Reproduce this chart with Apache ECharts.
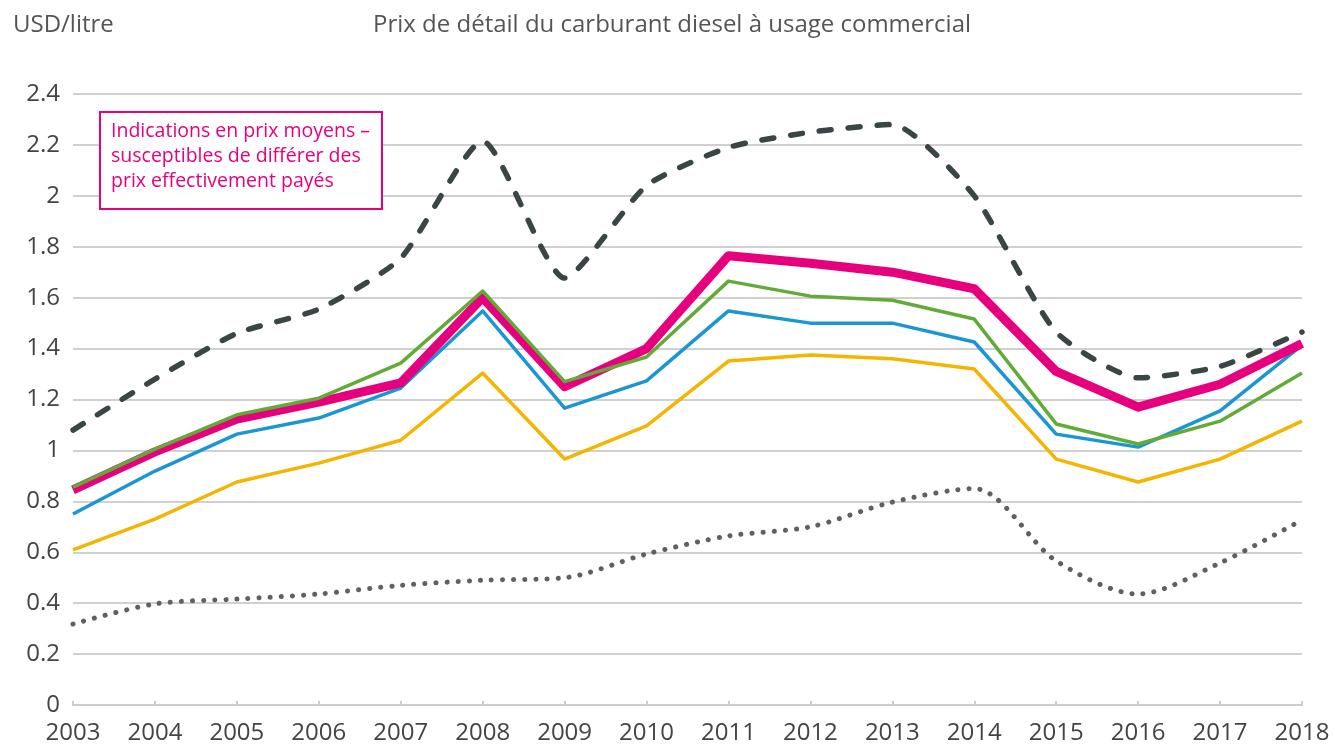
<!DOCTYPE html>
<html>
<head>
<meta charset="utf-8">
<script src="https://cdn.jsdelivr.net/npm/echarts@6/dist/echarts.min.js"></script>
<style>
html,body{margin:0;padding:0;background:#fff;}
#chart{width:1335px;height:748px;}
</style>
</head>
<body>
<div id="chart"></div>
<script>
const years = ['2003','2004','2005','2006','2007','2008','2009','2010','2011','2012','2013','2014','2015','2016','2017','2018'];
const yTicks = [0, 0.2, 0.4, 0.6, 0.8, 1, 1.2, 1.4, 1.6, 1.8, 2, 2.2, 2.4];
const dashedSeries = [1.08, 1.28, 1.46, 1.555, 1.755, 2.215, 1.677, 2.04, 2.19, 2.25, 2.28, 2.0, 1.465, 1.285, 1.33, 1.465];
const pinkSeries = [0.845, 0.994, 1.123, 1.19, 1.265, 1.60, 1.25, 1.40, 1.765, 1.735, 1.70, 1.635, 1.31, 1.17, 1.26, 1.42];
const greenSeries = [0.856, 1.005, 1.14, 1.205, 1.343, 1.626, 1.27, 1.367, 1.665, 1.606, 1.59, 1.516, 1.104, 1.025, 1.115, 1.304];
const blueSeries = [0.75, 0.919, 1.064, 1.127, 1.245, 1.548, 1.166, 1.273, 1.548, 1.50, 1.50, 1.426, 1.064, 1.013, 1.155, 1.414];
const yellowSeries = [0.609, 0.73, 0.876, 0.95, 1.04, 1.304, 0.966, 1.096, 1.351, 1.375, 1.36, 1.32, 0.966, 0.876, 0.966, 1.115];
const dottedSeries = [0.318, 0.397, 0.416, 0.436, 0.47, 0.49, 0.50, 0.593, 0.664, 0.70, 0.797, 0.85, 0.566, 0.436, 0.558, 0.727];
const noteLines = ['Indications en prix moyens –', 'susceptibles de différer des', 'prix effectivement payés'];

const FONT = '"Open Sans", "Noto Sans", sans-serif';
const chart = echarts.init(document.getElementById('chart'));

function solid(data, color, width, z) {
  return { type: 'line', data: data, symbol: 'none', z: z,
    lineStyle: { color: color, width: width, join: 'round' }, emphasis: { disabled: true } };
}

chart.setOption({
  animation: false,
  backgroundColor: '#ffffff',
  grid: { left: 73, right: 33, top: 94, bottom: 43, containLabel: false },
  title: [
    { text: 'USD/litre', left: 8, top: 8, textStyle: { fontFamily: FONT, fontSize: 24, fontWeight: 'normal', color: '#555555' } },
    { text: 'Prix de détail du carburant diesel à usage commercial', left: 368, top: 8, textStyle: { fontFamily: FONT, fontSize: 24, fontWeight: 'normal', color: '#555555' } }
  ],
  xAxis: {
    type: 'category', data: years, boundaryGap: false,
    axisLine: { lineStyle: { color: '#cccccc', width: 2 } },
    axisTick: { show: true, inside: true, length: 4, lineStyle: { color: '#cccccc', width: 2 } },
    axisLabel: { fontFamily: FONT, fontSize: 24, color: '#444444', margin: 16, interval: 0 },
    splitLine: { show: false }
  },
  yAxis: {
    type: 'value', min: 0, max: 2.4, interval: 0.2,
    axisLine: { show: false }, axisTick: { show: false },
    axisLabel: { fontFamily: FONT, fontSize: 24, color: '#444444', margin: 13,
      formatter: function (v) { const t = yTicks.find(x => Math.abs(x - v) < 1e-6); return String(t !== undefined ? t : Math.round(v * 10) / 10); } },
    splitLine: { lineStyle: { color: '#d0d0d0', width: 2 } }
  },
  series: [
    { type: 'line', data: dottedSeries, symbol: 'none', smooth: 0.3, z: 2,
      lineStyle: { color: '#606060', width: 5, type: [0.1, 11], cap: 'round' }, emphasis: { disabled: true } },
    solid(yellowSeries, '#f5b400', 3.5, 3),
    solid(blueSeries, '#1a96d4', 3.5, 4),
    solid(pinkSeries, '#e6007e', 9, 5),
    solid(greenSeries, '#62ab37', 3.5, 6),
    { type: 'line', data: dashedSeries, symbol: 'none', smooth: 0.2, z: 7,
      lineStyle: { color: '#3b4545', width: 5.5, type: [12, 17], cap: 'round' }, emphasis: { disabled: true } }
  ],
  graphic: [
    { type: 'rect', left: 99, top: 111, z: 100,
      shape: { width: 282, height: 97 },
      style: { fill: '#ffffff', stroke: '#e6007e', lineWidth: 2 } },
    { type: 'text', left: 111, top: 119, z: 101,
      style: { text: noteLines.join('\n'), fill: '#e6007e', font: '19.5px ' + FONT, lineHeight: 25 } }
  ]
});
</script>
</body>
</html>
